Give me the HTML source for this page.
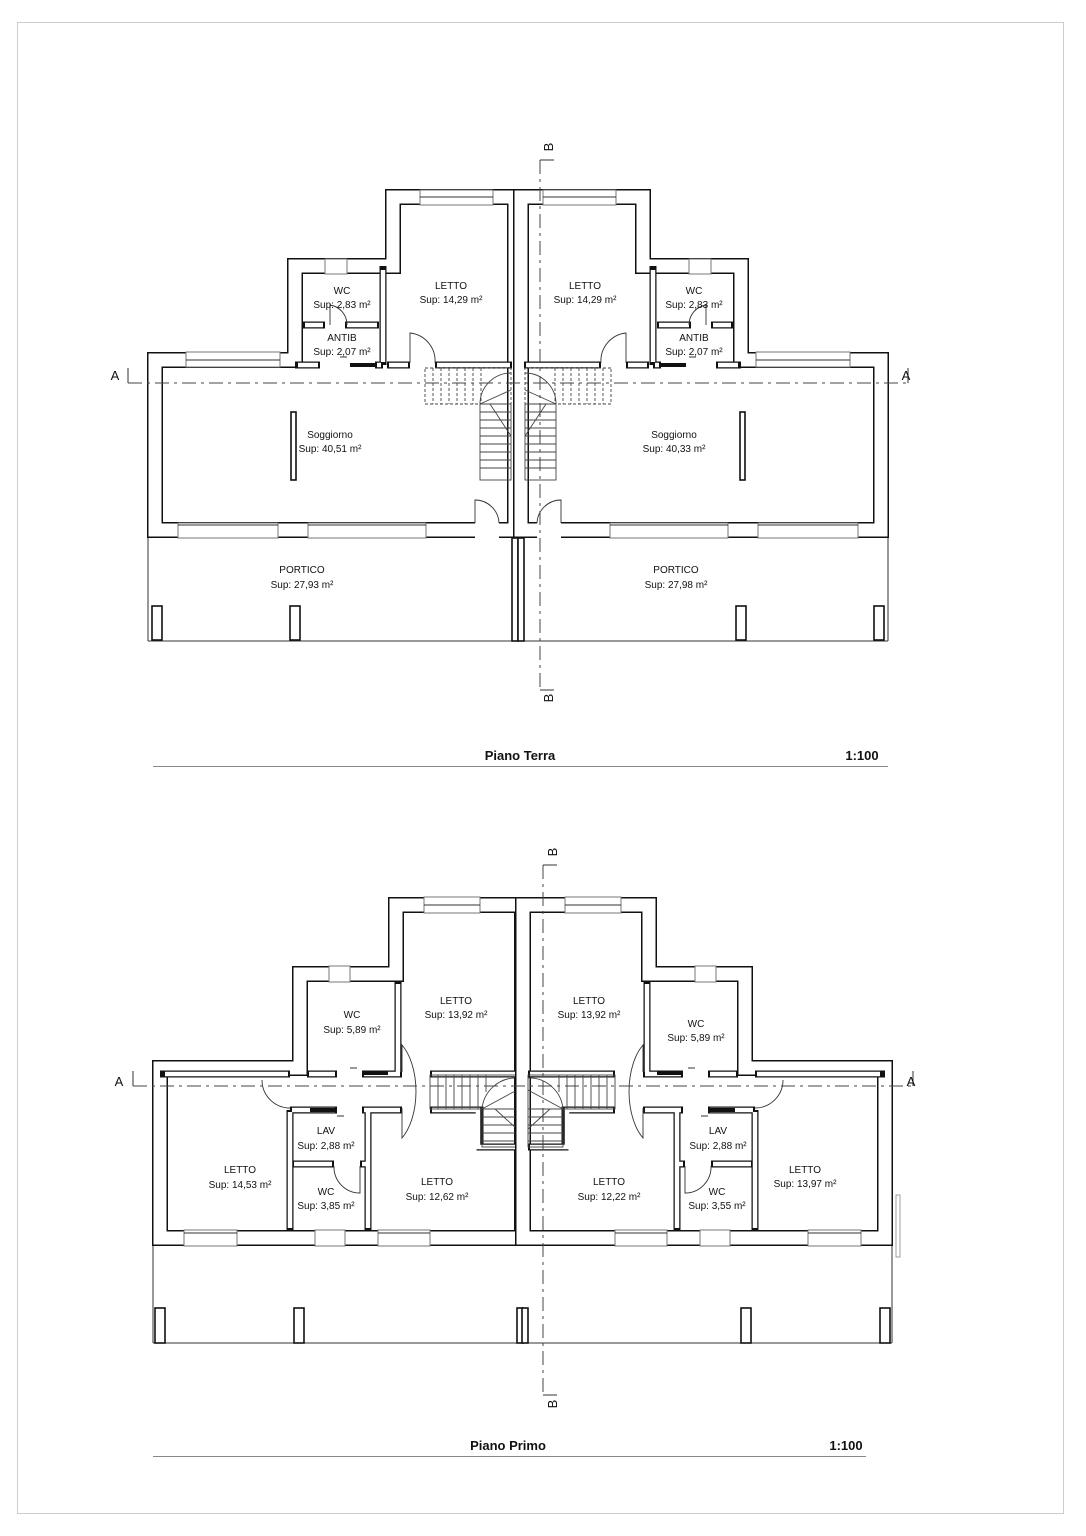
<!DOCTYPE html>
<html><head><meta charset="utf-8"><style>
html,body{margin:0;padding:0;background:#fff}
svg{display:block}
text{font-family:"Liberation Sans",sans-serif;font-size:10px;fill:#111;text-anchor:middle}
.w{fill:none;stroke:#111;stroke-width:16;stroke-linejoin:miter}
.wi{fill:none;stroke:#fff;stroke-width:13}
.t{fill:none;stroke:#111;stroke-width:7}
.ti{fill:none;stroke:#fff;stroke-width:4.5}
.win{fill:#fff;stroke:#777;stroke-width:1}
.thin{fill:none;stroke:#333;stroke-width:1}
.arc{fill:none;stroke:#333;stroke-width:0.9}
.dash{fill:none;stroke:#444;stroke-width:1;stroke-dasharray:14 5 3 5}
.col{fill:#fff;stroke:#111;stroke-width:1.6}
.st{fill:none;stroke:#444;stroke-width:0.9}
.std{fill:none;stroke:#444;stroke-width:0.9;stroke-dasharray:3 2}
</style></head><body>
<svg width="1086" height="1536" viewBox="0 0 1086 1536" xmlns="http://www.w3.org/2000/svg">
<rect x="17.5" y="22.5" width="1046" height="1491" fill="none" stroke="#ccc" stroke-width="1"/>
<defs>
<g id="topunit">
  <!-- portico -->
  <line x1="148" y1="538" x2="148" y2="641" class="thin"/>
  <line x1="148" y1="641" x2="518" y2="641" class="thin"/>
  <rect x="152" y="606" width="10" height="34" class="col"/>
  <rect x="290" y="606" width="10" height="34" class="col"/>
  <rect x="512" y="538" width="6" height="103" class="col"/>
  <!-- outer walls -->
  <path class="w" d="M155,530 L155,360 L295,360 L295,266 L393,266 L393,197 L515,197 L515,530 Z"/>
  <path class="wi" d="M155,530 L155,360 L295,360 L295,266 L393,266 L393,197 L515,197 L515,530 Z"/>
  <!-- windows -->
  <rect x="186" y="352" width="94" height="15" class="win"/><line x1="186" y1="360" x2="280" y2="360" class="thin"/>
  <rect x="325" y="259" width="22" height="15" class="win"/>
  <rect x="420" y="190" width="73" height="15" class="win"/><line x1="420" y1="197" x2="493" y2="197" class="thin"/>
  <rect x="178" y="523" width="100" height="15" class="win"/><line x1="178" y1="525" x2="278" y2="525" class="thin"/>
  <rect x="308" y="523" width="118" height="15" class="win"/><line x1="308" y1="525" x2="426" y2="525" class="thin"/>
  <rect x="475" y="522" width="24" height="17" fill="#fff"/>
  <path class="arc" d="M475,523 L475,500 A24,24 0 0 1 499,523"/>
  <!-- interior walls -->
  <path class="t" d="M383,266 L383,365 M303,325 L325,325 M345,325 L379,325 M295,365 L320,365 M375,365 L383,365 M387,365 L410,365 M435,365 L512,365"/>
  <path class="ti" d="M383,270 L383,362 M305,325 L323,325 M347,325 L377,325 M298,365 L318,365 M377,365 L381,365 M389,365 L408,365 M437,365 L510,365"/>
  <rect x="350" y="363" width="25" height="4" fill="#111"/>
  <path class="arc" d="M330,325 L330,305 A20,20 0 0 1 347,325"/>
  <path class="arc" d="M410,363 L410,333 A28,28 0 0 1 435,363"/>
  <line x1="340" y1="357" x2="347" y2="357" class="thin"/>
  <!-- partition -->
  <rect x="291" y="412" width="5" height="68" class="col"/>
  <!-- stairs -->
  <rect x="425" y="368" width="86" height="36" class="std"/>
  <path class="std" d="M433,368v36M441,368v36M449,368v36M457,368v36M465,368v36M473,368v36M481,368v36"/>
  <path class="st" d="M480,404 A31,31 0 0 1 511,373 M480,404 L511,390 M480,404 L505,404"/>
  <rect x="480" y="404" width="31" height="76" class="st"/>
  <path class="st" d="M480,412h31M480,420h31M480,428h31M480,436h31M480,444h31M480,452h31M480,460h31M480,468h31M490,404l21,32"/>
</g>
<g id="botunit">
  <line x1="153" y1="1245" x2="153" y2="1343" class="thin"/>
  <line x1="153" y1="1343" x2="523" y2="1343" class="thin"/>
  <rect x="155" y="1308" width="10" height="35" class="col"/>
  <rect x="294" y="1308" width="10" height="35" class="col"/>
  <rect x="517" y="1308" width="6" height="35" class="col"/>
  <path class="w" d="M160,1238 L160,1068 L300,1068 L300,974 L396,974 L396,905 L522,905 L522,1238 Z"/>
  <path class="wi" d="M160,1238 L160,1068 L300,1068 L300,974 L396,974 L396,905 L522,905 L522,1238 Z"/>
  <rect x="424" y="897" width="56" height="16" class="win"/><line x1="424" y1="905" x2="480" y2="905" class="thin"/>
  <rect x="329" y="966" width="21" height="16" class="win"/>
  <rect x="184" y="1230" width="53" height="16" class="win"/><line x1="184" y1="1233" x2="237" y2="1233" class="thin"/>
  <rect x="315" y="1230" width="30" height="16" class="win"/>
  <rect x="378" y="1230" width="52" height="16" class="win"/><line x1="378" y1="1233" x2="430" y2="1233" class="thin"/>
  <!-- corridor clear -->
  <rect x="153" y="1069" width="8" height="1" fill="none"/>
  <!-- interior -->
  <path class="t" d="M398,982 L398,1074 M307,1074 L337,1074 M362,1074 L402,1074 M430,1074 L517,1074 M290,1110 L337,1110 M362,1110 L402,1110 M430,1110 L480,1110 L480,1147 L517,1147 M290,1110 L290,1230 M368,1110 L368,1230 M292,1164 L334,1164 M360,1164 L368,1164 M160,1074 L290,1074"/>
  <path class="ti" d="M398,984 L398,1072 M309,1074 L335,1074 M364,1074 L400,1074 M432,1074 L515,1074 M292,1110 L335,1110 M364,1110 L400,1110 M432,1110 L478,1110 L478,1147 L515,1147 M290,1112 L290,1228 M368,1112 L368,1228 M294,1164 L332,1164 M362,1164 L366,1164 M165,1074 L288,1074"/>
  <rect x="363" y="1071" width="25" height="4" fill="#111"/>
  <rect x="310" y="1108" width="25" height="4" fill="#111"/>
  <rect x="155" y="1074" width="140" height="34" fill="none"/>
  <path class="arc" d="M402,1072 L402,1045 A30,55 0 0 1 402,1138 L402,1108"/>
  <path class="arc" d="M290,1108 A28,28 0 0 1 262,1080"/>
  <path class="arc" d="M360,1166 L360,1193 A26,26 0 0 1 334,1166"/>
  <line x1="350" y1="1068" x2="357" y2="1068" class="thin"/>
  <line x1="337" y1="1116" x2="344" y2="1116" class="thin"/>
  <!-- stairs -->
  <rect x="430" y="1075" width="87" height="34" class="st"/>
  <path class="st" d="M438,1075v34M446,1075v34M454,1075v34M462,1075v34M470,1075v34M478,1075v34M486,1075v17"/>
  <path class="st" d="M482,1109 A34,34 0 0 1 517,1078 M482,1109 L517,1090"/>
  <rect x="482" y="1109" width="35" height="38" class="st"/>
  <path class="st" d="M482,1117h35M482,1125h35M482,1133h35M482,1141h35M495,1109l22,20"/>
</g>
</defs>
<use href="#topunit"/>
<use href="#topunit" transform="translate(1036,0) scale(-1,1)"/>
<use href="#botunit"/>
<use href="#botunit" transform="translate(1045,0) scale(-1,1)"/>
<rect x="896" y="1195" width="4" height="62" fill="none" stroke="#888" stroke-width="0.8"/>
<!-- section lines -->
<path class="dash" d="M128,383 L908,383"/>
<path class="thin" d="M128,368 L128,383 M908,368 L908,383"/>
<text x="115" y="380" style="font-size:13px">A</text><text x="906" y="380" style="font-size:13px">A</text>
<path class="dash" d="M540,160 L540,690"/>
<path class="thin" d="M540,160 L554,160 M540,690 L554,690"/>
<text transform="translate(553,147) rotate(-90)" style="font-size:13px">B</text>
<text transform="translate(553,698) rotate(-90)" style="font-size:13px">B</text>
<path class="dash" d="M133,1086 L913,1086"/>
<path class="thin" d="M133,1071 L133,1086 M913,1071 L913,1086"/>
<text x="119" y="1086" style="font-size:13px">A</text><text x="911" y="1086" style="font-size:13px">A</text>
<path class="dash" d="M543,865 L543,1395"/>
<path class="thin" d="M543,865 L557,865 M543,1395 L557,1395"/>
<text transform="translate(557,852) rotate(-90)" style="font-size:13px">B</text>
<text transform="translate(557,1404) rotate(-90)" style="font-size:13px">B</text>
<!-- labels top -->
<text x="342" y="294">WC</text><text x="342" y="308">Sup: 2,83 m²</text>
<text x="342" y="341">ANTIB</text><text x="342" y="355">Sup: 2,07 m²</text>
<text x="451" y="289">LETTO</text><text x="451" y="303">Sup: 14,29 m²</text>
<text x="585" y="289">LETTO</text><text x="585" y="303">Sup: 14,29 m²</text>
<text x="694" y="294">WC</text><text x="694" y="308">Sup: 2,83 m²</text>
<text x="694" y="341">ANTIB</text><text x="694" y="355">Sup: 2,07 m²</text>
<text x="330" y="438">Soggiorno</text><text x="330" y="452">Sup: 40,51 m²</text>
<text x="674" y="438">Soggiorno</text><text x="674" y="452">Sup: 40,33 m²</text>
<text x="302" y="573">PORTICO</text><text x="302" y="588">Sup: 27,93 m²</text>
<text x="676" y="573">PORTICO</text><text x="676" y="588">Sup: 27,98 m²</text>
<!-- labels bottom -->
<text x="352" y="1018">WC</text><text x="352" y="1033">Sup: 5,89 m²</text>
<text x="456" y="1004">LETTO</text><text x="456" y="1018">Sup: 13,92 m²</text>
<text x="589" y="1004">LETTO</text><text x="589" y="1018">Sup: 13,92 m²</text>
<text x="696" y="1027">WC</text><text x="696" y="1041">Sup: 5,89 m²</text>
<text x="240" y="1173">LETTO</text><text x="240" y="1188">Sup: 14,53 m²</text>
<text x="326" y="1134">LAV</text><text x="326" y="1149">Sup: 2,88 m²</text>
<text x="326" y="1195">WC</text><text x="326" y="1209">Sup: 3,85 m²</text>
<text x="437" y="1185">LETTO</text><text x="437" y="1200">Sup: 12,62 m²</text>
<text x="609" y="1185">LETTO</text><text x="609" y="1200">Sup: 12,22 m²</text>
<text x="718" y="1134">LAV</text><text x="718" y="1149">Sup: 2,88 m²</text>
<text x="717" y="1195">WC</text><text x="717" y="1209">Sup: 3,55 m²</text>
<text x="805" y="1173">LETTO</text><text x="805" y="1187">Sup: 13,97 m²</text>
<!-- titles -->
<text x="520" y="760" style="font-size:13px;font-weight:bold">Piano Terra</text>
<text x="862" y="760" style="font-size:13px;font-weight:bold">1:100</text>
<line x1="153" y1="766.5" x2="888" y2="766.5" stroke="#888" stroke-width="1"/>
<text x="508" y="1450" style="font-size:13px;font-weight:bold">Piano Primo</text>
<text x="846" y="1450" style="font-size:13px;font-weight:bold">1:100</text>
<line x1="153" y1="1456.5" x2="866" y2="1456.5" stroke="#888" stroke-width="1"/>
</svg>
</body></html>
